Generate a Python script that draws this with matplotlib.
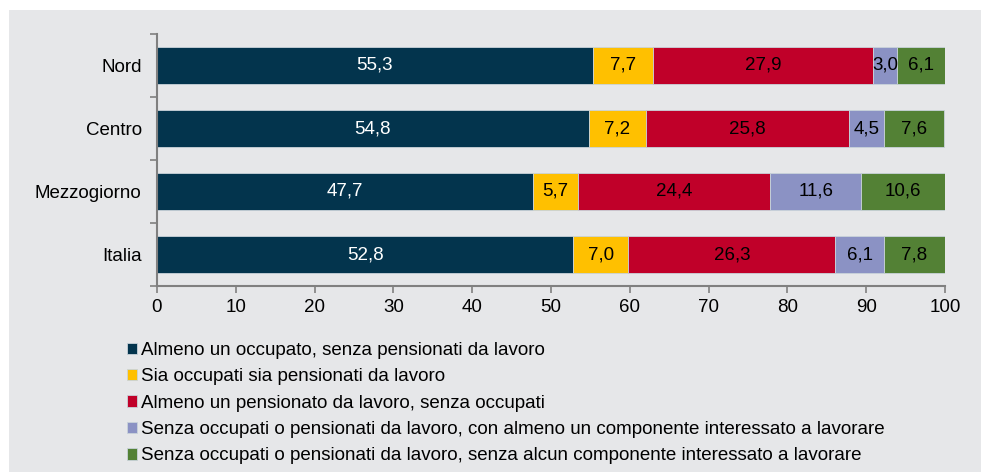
import numpy as np
import matplotlib.pyplot as plt
from matplotlib.patches import Rectangle

plt.rcParams['font.family'] = ['Liberation Sans', 'DejaVu Sans']

regions = ["Nord", "Centro", "Mezzogiorno", "Italia"]
series_names = [
    "Almeno un occupato, senza pensionati da lavoro",
    "Sia occupati sia pensionati da lavoro",
    "Almeno un pensionato da lavoro, senza occupati",
    "Senza occupati o pensionati da lavoro, con almeno un componente interessato a lavorare",
    "Senza occupati o pensionati da lavoro, senza alcun componente interessato a lavorare",
]
occupato = [55.3, 54.8, 47.7, 52.8]
occ_pens = [7.7, 7.2, 5.7, 7.0]
pensionato = [27.9, 25.8, 24.4, 26.3]
interessato = [3.0, 4.5, 11.6, 6.1]
non_interessato = [6.1, 7.6, 10.6, 7.8]

colors = ["#03344D", "#FFC000", "#C00029", "#8B92C4", "#538135"]
text_colors = ["white", "black", "black", "black", "black"]
fs = 13.5

fig = plt.figure(figsize=(9.81, 4.74), dpi=100)
fig.patches.append(Rectangle((9/981, 2/474), 1, 1 - 12/474, transform=fig.transFigure,
                             facecolor="#E6E7E9", edgecolor="none", zorder=-10))
ax = fig.add_axes([157/981, 1 - 286/474, (945 - 157)/981, (286 - 34)/474])
ax.patch.set_visible(False)

y = np.arange(len(regions))
left = np.zeros(len(regions))
all_series = [occupato, occ_pens, pensionato, interessato, non_interessato]
for vals, col, tc, name in zip(all_series, colors, text_colors, series_names):
    vals = np.array(vals)
    ax.barh(y, vals, left=left, height=0.59, color=col, edgecolor="#C9D3DA",
            linewidth=0.6, label=name)
    for yi, l, v in zip(y, left, vals):
        ax.text(l + v / 2, yi, f"{v:.1f}".replace(".", ","), ha="center", va="center",
                color=tc, fontsize=fs)
    left += vals

ax.set_xlim(0, 100)
ax.set_ylim(len(regions) - 0.5, -0.5)
ax.set_xticks(np.arange(0, 101, 10))
ax.set_yticks(y)
ax.set_yticklabels(regions)
ax.set_yticks(np.arange(-0.5, len(regions), 1), minor=True)
ax.tick_params(axis="y", which="major", length=0, pad=11, labelsize=fs)
ax.tick_params(axis="y", which="minor", length=5, width=1.2, color="#808080", direction="out")
ax.tick_params(axis="x", length=5, width=1.2, color="#808080", direction="out", labelsize=fs, pad=4)
for side in ["top", "right"]:
    ax.spines[side].set_visible(False)
for side in ["left", "bottom"]:
    ax.spines[side].set_color("#808080")
    ax.spines[side].set_linewidth(1.5)

handles, labels = ax.get_legend_handles_labels()
fig.legend(handles, labels, loc="upper left", bbox_to_anchor=(127/981, 1 - 342/474),
           frameon=False, fontsize=fs, handlelength=0.55, handleheight=0.55,
           handletextpad=0.2, labelspacing=0.5, borderpad=0, borderaxespad=0)

fig.savefig("out.png", dpi=100)
